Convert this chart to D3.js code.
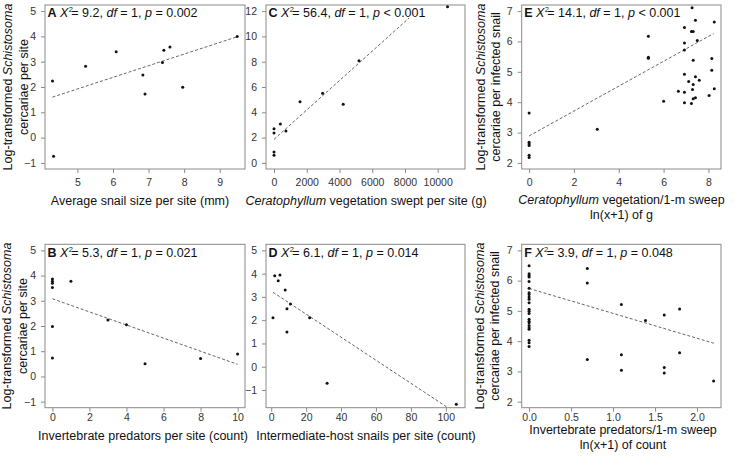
<!DOCTYPE html>
<html><head><meta charset="utf-8">
<script src="https://cdn.jsdelivr.net/npm/d3@7"></script>
<style>
body{margin:0;background:#fff}
svg{display:block}
text{font-family:"Liberation Sans",Arial,sans-serif}
</style>
</head><body>
<svg id="chart" width="747" height="457"></svg>
<script>
// ---------- DATA ----------
const aX = [4.30, 4.33, 5.23, 6.09, 6.84, 6.90, 7.39, 7.43, 7.60, 7.96, 9.49];
const aY = [2.24, -0.74, 2.82, 3.39, 2.47, 1.72, 2.97, 3.45, 3.58, 1.99, 4.00];
const aFit = [[4.3, 1.60], [9.5, 3.99]];

const bX = [0, 0, 0, 0, 0, 0, 1, 3, 4, 5, 8, 10];
const bY = [3.86, 3.77, 3.70, 3.53, 1.98, 0.73, 3.77, 2.24, 2.05, 0.50, 0.71, 0.89];
const bFit = [[0, 3.08], [10, 0.48]];

const cX = [0, 0, 0, 0, 390, 730, 1590, 2970, 4230, 5190, 10600];
const cY = [2.70, 2.36, 0.86, 0.61, 3.07, 2.52, 4.83, 5.50, 4.64, 8.07, 12.35];
const cFit = [[0, 1.86], [8250, 11.45]];

const dX = [1, 2, 4, 5, 8, 9, 9, 11, 22, 32, 106];
const dY = [2.10, 3.91, 3.69, 3.94, 3.30, 2.49, 1.49, 2.70, 2.10, -0.71, -1.61];
const dFit = [[1, 3.20], [101, -1.75]];

const eX = [0, 0, 0, 0, 0, 0, 3.04, 5.32, 5.32, 5.32, 6.00, 6.66,
            6.93, 6.93, 6.93, 6.93, 6.93, 6.93, 7.12, 7.27, 7.24, 7.32, 7.42, 7.50,
            7.32, 7.32, 7.29, 7.32, 7.24, 7.42, 7.42, 7.59, 8.03, 8.15, 8.15, 8.26, 8.26];
const eY = [3.64, 2.68, 2.62, 2.57, 2.25, 2.18, 3.11, 6.17, 5.48, 5.45, 4.03, 4.36,
            6.46, 5.95, 5.72, 4.92, 4.33, 3.98, 4.68, 7.11, 6.33, 6.33, 6.70, 6.03,
            5.38, 4.58, 4.42, 4.11, 3.96, 4.15, 4.84, 4.72, 4.22, 5.44, 5.05, 4.44, 6.64];
const eFit = [[0, 2.89], [8.23, 6.26]];

const fX = [0, 0, 0, 0, 0, 0, 0, 0, 0, 0, 0, 0, 0, 0, 0, 0, 0, 0, 0, 0, 0, 0, 0,
            0.693, 0.693, 0.693, 1.099, 1.099, 1.099, 1.386, 1.609, 1.609, 1.609, 1.792, 1.792, 2.197];
const fY = [6.49, 6.23, 6.17, 6.12, 5.97, 5.75, 5.60, 5.54, 5.46, 5.38, 5.27, 5.05, 4.99, 4.91,
            4.72, 4.66, 4.61, 4.52, 4.44, 4.39, 4.03, 3.95, 3.82,
            6.40, 5.92, 3.39, 5.21, 3.55, 3.04, 4.68, 4.86, 3.13, 2.95, 5.06, 3.62, 2.68];
const fFit = [[0, 5.74], [2.2, 3.93]];

const letters = ["A", "B", "C", "D", "E", "F"];
const chiSq = ["9.2", "5.3", "56.4", "6.1", "14.1", "3.9"];
const pSign = ["=", "=", "<", "=", "<", "="];
const pVal = ["0.002", "0.021", "0.001", "0.014", "0.001", "0.048"];

const aXTicks = [5, 6, 7, 8, 9], aYTicks = [-1, 0, 1, 2, 3, 4, 5];
const bXTicks = [0, 2, 4, 6, 8, 10], bYTicks = [-1, 0, 1, 2, 3, 4, 5];
const cXTicks = [0, 2000, 4000, 6000, 8000, 10000], cYTicks = [0, 2, 4, 6, 8, 10, 12];
const dXTicks = [0, 20, 40, 60, 80, 100], dYTicks = [-1, 0, 1, 2, 3, 4, 5];
const eXTicks = [0, 2, 4, 6, 8], eYTicks = [2, 3, 4, 5, 6, 7];
const fXTicks = [0, 0.5, 1.0, 1.5, 2.0], fYTicks = [2, 3, 4, 5, 6, 7];

// ---------- LAYOUT ----------
const colL = [45, 266, 521.7], colR = [245, 465, 721];
const rowT = [5, 244.3], rowB = [169, 407.7];
const xPad = [5.2, 1.5];

const panels = [
  {id:0, col:0, row:0, xs:aX, ys:aY, fit:aFit, xd:[4.09, 9.71], yd:[-1.24, 5.24], xt:aXTicks, yt:aYTicks, xf:d3.format("d")},
  {id:1, col:0, row:1, xs:bX, ys:bY, fit:bFit, xd:[-0.4, 10.4], yd:[-1.24, 5.24], xt:bXTicks, yt:bYTicks, xf:d3.format("d")},
  {id:2, col:1, row:0, xs:cX, ys:cY, fit:cFit, xd:[-489, 11668], yd:[-0.48, 12.48], xt:cXTicks, yt:cYTicks, xf:d3.format("d")},
  {id:3, col:1, row:1, xs:dX, ys:dY, fit:dFit, xd:[-3, 111], yd:[-1.76, 5.26], xt:dXTicks, yt:dYTicks, xf:d3.format("d")},
  {id:4, col:2, row:0, xs:eX, ys:eY, fit:eFit, xd:[-0.33, 8.56], yd:[1.8, 7.2], xt:eXTicks, yt:eYTicks, xf:d3.format("d")},
  {id:5, col:2, row:1, xs:fX, ys:fY, fit:fFit, xd:[-0.088, 2.285], yd:[1.8, 7.2], xt:fXTicks, yt:fYTicks, xf:d3.format(".1f")}
];

const svg = d3.select("#chart");
const boxColor = "#8a8a8a";
const tickText = "#333";
const fs = 12.5;

panels.forEach(p => {
  const L = colL[p.col], R = colR[p.col], T = rowT[p.row], B = rowB[p.row];
  const x = d3.scaleLinear().domain(p.xd).range([L, R]);
  const y = d3.scaleLinear().domain(p.yd).range([B, T]);
  const g = svg.append("g");

  const clipId = "clip" + p.id;
  svg.append("clipPath").attr("id", clipId).append("rect")
    .attr("x", L).attr("y", T).attr("width", R - L).attr("height", B - T);

  // axes
  const xa = g.append("g").attr("transform", `translate(0,${B})`)
    .call(d3.axisBottom(x).tickValues(p.xt).tickFormat(p.xf).tickSize(4).tickPadding(xPad[p.row]));
  const ya = g.append("g").attr("transform", `translate(${L},0)`)
    .call(d3.axisLeft(y).tickValues(p.yt).tickFormat(d3.format("d")).tickSize(4).tickPadding(5));
  [xa, ya].forEach(a => {
    a.select(".domain").remove();
    a.selectAll("line").attr("stroke", boxColor);
    a.selectAll("text").attr("fill", tickText).style("font-size", "10.5px")
      .style("font-family", '"Liberation Sans",Arial,sans-serif');
  });

  // box
  g.append("rect").attr("x", L).attr("y", T).attr("width", R - L).attr("height", B - T)
    .attr("fill", "none").attr("stroke", boxColor).attr("stroke-width", 1);

  // fit line
  g.append("line").attr("clip-path", `url(#${clipId})`)
    .attr("x1", x(p.fit[0][0])).attr("y1", y(p.fit[0][1]))
    .attr("x2", x(p.fit[1][0])).attr("y2", y(p.fit[1][1]))
    .attr("stroke", "#555").attr("stroke-width", 0.9).attr("stroke-dasharray", "3,2");

  // points
  g.selectAll("circle.pt").data(p.xs.map((v, i) => [v, p.ys[i]])).enter()
    .append("circle").attr("class", "pt")
    .attr("cx", d => x(d[0])).attr("cy", d => y(d[1])).attr("r", 1.5).attr("fill", "#111");

  // title
  const t = g.append("text").attr("x", L + 2.5).attr("y", T + 12.3)
    .style("font-size", fs + "px").attr("fill", "#111");
  t.append("tspan").attr("font-weight", "bold").text(letters[p.id]);
  t.append("tspan").text(" ");
  t.append("tspan").attr("font-style", "italic").text("X");
  t.append("tspan").style("font-size", "7.5px").attr("dy", -5).attr("dx", 0.3).text("2");
  t.append("tspan").attr("dy", 5).attr("dx", -1.5).text("= " + chiSq[p.id] + ", ");
  t.append("tspan").attr("font-style", "italic").text("df");
  t.append("tspan").text(" = 1, ");
  t.append("tspan").attr("font-style", "italic").text("p");
  t.append("tspan").text(" " + pSign[p.id] + " " + pVal[p.id]);
});

// ---------- AXIS TITLES ----------
function ylab(cy, xs, line2) {
  const t1 = svg.append("text").attr("transform", `translate(${xs[0]},${cy}) rotate(-90)`)
    .attr("text-anchor", "middle").style("font-size", fs + "px").attr("fill", "#111");
  t1.append("tspan").text("Log-transformed ");
  t1.append("tspan").attr("font-style", "italic").text("Schistosoma");
  svg.append("text").attr("transform", `translate(${xs[1]},${cy}) rotate(-90)`)
    .attr("text-anchor", "middle").style("font-size", fs + "px").attr("fill", "#111").text(line2);
}
ylab((rowT[0] + rowB[0]) / 2, [12.3, 28], "cercariae per site");
ylab((rowT[1] + rowB[1]) / 2, [10.8, 26.5], "cercariae per site");
ylab((rowT[0] + rowB[0]) / 2, [485, 499.5], "cercariae per infected snail");
ylab((rowT[1] + rowB[1]) / 2, [484, 499], "cercariae per infected snail");

function xlab(cx, by, parts) {
  const t = svg.append("text").attr("x", cx).attr("y", by).attr("text-anchor", "middle")
    .style("font-size", fs + "px").attr("fill", "#111");
  parts.forEach(pt => {
    const s = t.append("tspan").text(pt[0]);
    if (pt[1]) s.attr("font-style", "italic");
  });
}
xlab(140, 205, [["Average snail size per site (mm)"]]);
xlab(366, 205, [["Ceratophyllum", true], [" vegetation swept per site (g)"]]);
xlab(621.5, 203.5, [["Ceratophyllum", true], [" vegetation/1-m sweep"]]);
xlab(621.5, 219, [["ln(x+1) of g"]]);
xlab(143, 439.5, [["Invertebrate predators per site (count)"]]);
xlab(366, 439.5, [["Intermediate-host snails per site (count)"]]);
xlab(623, 434.3, [["Invertebrate predators/1-m sweep"]]);
xlab(623, 449.3, [["ln(x+1) of count"]]);
</script>
</body></html>
